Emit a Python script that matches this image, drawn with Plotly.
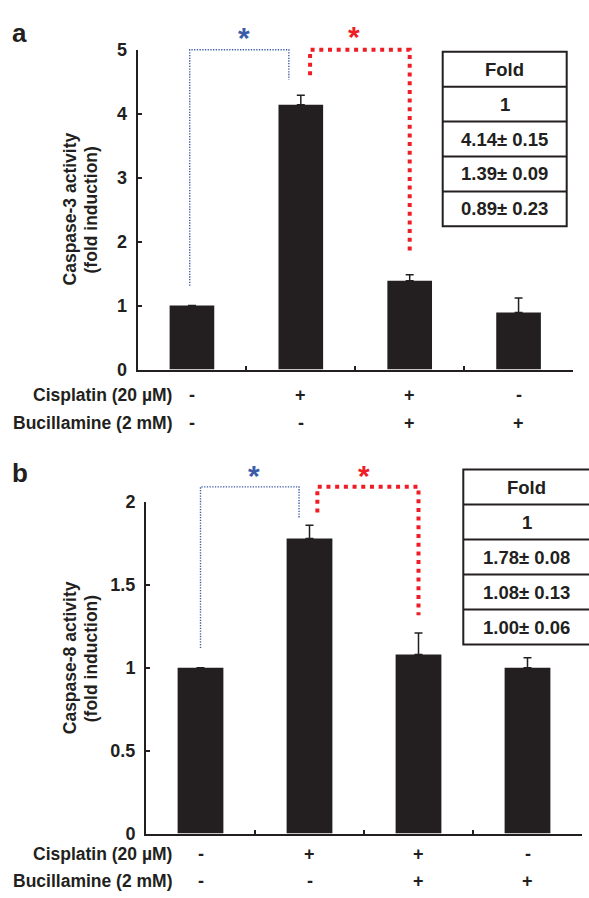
import plotly.graph_objects as go

# ---------------- data ----------------
groups = ["G1", "G2", "G3", "G4"]
cisplatin = ["-", "+", "+", "-"]
bucillamine = ["-", "-", "+", "+"]

casp3_mean = [1.00, 4.14, 1.39, 0.89]
casp3_sem = [0.00, 0.15, 0.09, 0.23]
casp3_table = ["1", "4.14± 0.15", "1.39± 0.09", "0.89± 0.23"]

casp8_mean = [1.00, 1.78, 1.08, 1.00]
casp8_sem = [0.00, 0.08, 0.13, 0.06]
casp8_table = ["1", "1.78± 0.08", "1.08± 0.13", "1.00± 0.06"]

ticks_a = [0, 1, 2, 3, 4, 5]
ticks_b = [0, 0.5, 1, 1.5, 2]
ticks_b_text = ["0", "0.5", "1", "1.5", "2"]

# ---------------- style ----------------
W, H = 589, 898
INK = "#231f20"
BLUE = "#3b5ca8"
RED = "#ee1d26"
FONT = "Liberation Sans"
FS = 17.5


def px(x):
    return x / W


def py(y):
    return 1 - y / H


xs = list(range(len(groups)))

fig = go.Figure()

fig.add_trace(go.Bar(
    x=xs, y=casp3_mean, width=0.41, marker=dict(color=INK, line=dict(width=0)),
    error_y=dict(type="data", array=casp3_sem, arrayminus=[0] * 4, symmetric=False,
                 color=INK, thickness=1.5, width=4),
    xaxis="x", yaxis="y", showlegend=False, hoverinfo="skip"))

fig.add_trace(go.Bar(
    x=xs, y=casp8_mean, width=0.42, marker=dict(color=INK, line=dict(width=0)),
    error_y=dict(type="data", array=casp8_sem, arrayminus=[0] * 4, symmetric=False,
                 color=INK, thickness=1.5, width=4),
    xaxis="x2", yaxis="y2", showlegend=False, hoverinfo="skip"))

axis_common = dict(showgrid=False, zeroline=False, showline=True, linecolor=INK,
                   linewidth=2, ticks="inside", ticklen=4, tickwidth=1.5, tickcolor=INK)

# panel geometry (pixels)
A = dict(x0=137.5, x1=573.0, y0=367.7, y1=40.7, ymax=5.0)
B = dict(x0=146.0, x1=582.0, y0=842.3, y1=503.3, ymax=2.0)

fig.update_layout(
    width=W, height=H, autosize=False,
    margin=dict(l=0, r=0, t=0, b=0),
    paper_bgcolor="white", plot_bgcolor="white",
    font=dict(family=FONT, color=INK, size=FS),
    xaxis=dict(domain=[px(A["x0"]), px(A["x1"])], range=[-0.5, 3.5], anchor="y",
               tickvals=[-0.5, 0.5, 1.5, 2.5, 3.5], showticklabels=False, **axis_common),
    yaxis=dict(domain=[py(A["y0"]), py(A["y1"])], range=[0, A["ymax"]], anchor="x",
               tickvals=ticks_a, ticktext=[f"<b>{t}</b>" for t in ticks_a],
               ticklabelstandoff=5, tickfont=dict(size=18), **axis_common),
    xaxis2=dict(domain=[px(B["x0"]), px(B["x1"])], range=[-0.5, 3.5], anchor="y2",
                tickvals=[-0.5, 0.5, 1.5, 2.5, 3.5], showticklabels=False, **axis_common),
    yaxis2=dict(domain=[py(B["y0"]), py(B["y1"])], range=[0, B["ymax"]], anchor="x2",
                tickvals=ticks_b, ticktext=[f"<b>{t}</b>" for t in ticks_b_text],
                ticklabelstandoff=5, tickfont=dict(size=18), **axis_common),
)

shapes = []
annos = []


def bracket(ax, P, xl, yl, xr, yr, ytop, color, width, dash):
    # data coordinates converted to axis-domain fractions (x range -0.5..3.5)
    fx = lambda v: (v + 0.5) / 4.0
    fy = lambda v: v / P["ymax"]
    path = f"M{fx(xl)},{fy(yl)} L{fx(xl)},{fy(ytop)} L{fx(xr)},{fy(ytop)} L{fx(xr)},{fy(yr)}"
    shapes.append(dict(type="path", path=path, xref=f"{ax[0]} domain", yref=f"{ax[1]} domain",
                       line=dict(color=color, width=width, dash=dash), layer="above"))


# panel a brackets
bracket(("x", "y"), A, -0.02, 1.31, 0.89, 4.53, 5.0, BLUE, 1.4, "1.3px,1.4px")
bracket(("x", "y"), A, 1.085, 4.6, 2.0, 1.8, 5.0, RED, 4, "4px,4.7px")
# panel b brackets
bracket(("x2", "y2"), B, 0.0, 1.12, 0.904, 1.905, 2.092, BLUE, 1.4, "1.3px,1.4px")
bracket(("x2", "y2"), B, 1.072, 1.937, 2.0, 1.317, 2.092, RED, 4, "4px,4.7px")

# stars
for (x, y, c) in [(244, 26, BLUE), (354, 25, RED), (254, 474, BLUE), (364, 474, RED)]:
    annos.append(dict(x=px(x), y=py(y), xref="paper", yref="paper", text="<b>*</b>",
                      showarrow=False, font=dict(size=30, color=c), yanchor="middle",
                      xanchor="center", yshift=-2))


# tables
def table(x0, x1, ytop, rowh, rows, xc):
    n = len(rows)
    shapes.append(dict(type="rect", xref="paper", yref="paper", x0=px(x0), x1=px(x1),
                       y0=py(ytop), y1=py(ytop + n * rowh), line=dict(color=INK, width=2)))
    for k in range(1, n):
        shapes.append(dict(type="line", xref="paper", yref="paper", x0=px(x0), x1=px(x1),
                           y0=py(ytop + k * rowh), y1=py(ytop + k * rowh),
                           line=dict(color=INK, width=2)))
    for k, t in enumerate(rows):
        annos.append(dict(x=px(xc), y=py(ytop + (k + 0.5) * rowh), xref="paper", yref="paper",
                          text=f"<b>{t}</b>", showarrow=False, xanchor="center",
                          yanchor="middle", font=dict(size=18.5)))


table(442.7, 566.7, 42.7, 35.72, ["Fold"] + casp3_table, 504.7)
table(463.3, 595.0, 470.0, 35.8, ["Fold"] + casp8_table, 526.7)

# panel letters
annos.append(dict(x=px(19), y=py(24), xref="paper", yref="paper", text="<b>a</b>",
                  showarrow=False, font=dict(size=26), xanchor="center", yanchor="middle"))
annos.append(dict(x=px(20), y=py(474), xref="paper", yref="paper", text="<b>b</b>",
                  showarrow=False, font=dict(size=26), xanchor="center", yanchor="middle"))

# y titles
for (xc, yc, t) in [(70, 204, "Caspase-3 activity"), (91, 204, "(fold induction)"),
                    (70, 663, "Caspase-8 activity"), (91, 663, "(fold induction)")]:
    annos.append(dict(x=px(xc), y=py(yc), xref="paper", yref="paper", text=f"<b>{t}</b>",
                      textangle=-90, showarrow=False, xanchor="center", yanchor="middle",
                      font=dict(size=17.5)))

# treatment rows
for (xa, ycis, ybuc) in [("x", 393.3, 422.7), ("x2", 863.3, 890.7)]:
    annos.append(dict(x=px(174), y=py(ycis), xref="paper", yref="paper",
                      text="<b>Cisplatin (20 µM)</b>", showarrow=False, xanchor="right",
                      yanchor="middle", font=dict(size=17.5)))
    annos.append(dict(x=px(174), y=py(ybuc), xref="paper", yref="paper",
                      text="<b>Bucillamine (2 mM)</b>", showarrow=False, xanchor="right",
                      yanchor="middle", font=dict(size=17.5)))
    for i in xs:
        annos.append(dict(x=i, y=py(ycis), xref=xa, yref="paper", text=f"<b>{cisplatin[i]}</b>",
                          showarrow=False, xanchor="center", yanchor="middle", font=dict(size=18)))
        annos.append(dict(x=i, y=py(ybuc), xref=xa, yref="paper", text=f"<b>{bucillamine[i]}</b>",
                          showarrow=False, xanchor="center", yanchor="middle", font=dict(size=18)))

fig.update_layout(shapes=shapes, annotations=annos)
fig.write_html(
    "out.html",
    config={"displayModeBar": False},
    post_script="document.body.style.margin='0';document.body.style.overflow='hidden';",
)
